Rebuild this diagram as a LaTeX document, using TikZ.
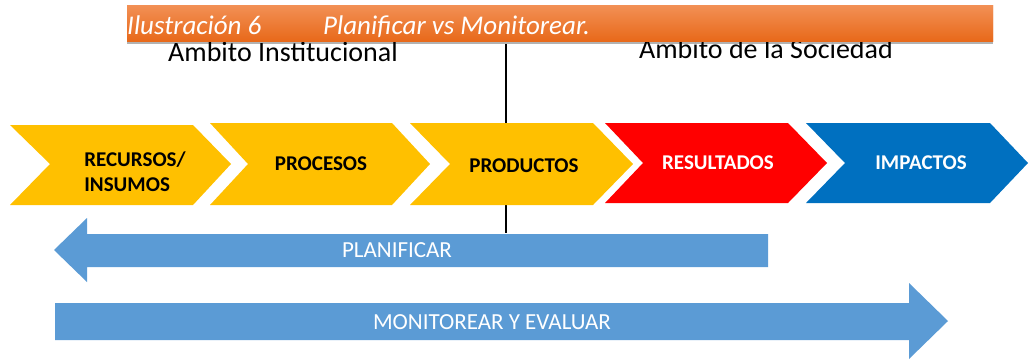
\documentclass[tikz,border=0pt]{standalone}
\usepackage{fontspec}
\setmainfont{Carlito}
\definecolor{cyellow}{HTML}{FFC000}
\definecolor{cred}{HTML}{FF0000}
\definecolor{cblue}{HTML}{0070C0}
\definecolor{abar}{HTML}{5B9BD5}
\definecolor{otop}{HTML}{F29055}
\definecolor{obot}{HTML}{E8691A}
\begin{document}
\begin{tikzpicture}[x=1pt,y=-1pt,
  clabel/.style={font=\bfseries\fontsize{21}{25}\selectfont, align=center, inner sep=0pt},
  alabel/.style={font=\fontsize{23}{25}\selectfont, text=white, inner sep=0pt},
  ambito/.style={font=\fontsize{28}{30}\selectfont, inner sep=0pt},
  ttl/.style={font=\itshape\fontsize{27}{29}\selectfont, text=white, anchor=base west, inner sep=0pt},
  blk/.style={line width=2.5pt, black}]
\useasboundingbox (0,0) rectangle (1031,360);
% vertical divider (behind chevrons)
\coordinate (vtop) at (506,42);
\coordinate (vbot) at (506,233);
\draw[blk] (vtop) -- (vbot);
% title bar
\fill[gray!60] (127,40) rectangle (993,44);
\shade[top color=otop, bottom color=obot] (127,5) rectangle (993,41);
\node[ambito] (ai) at (283,52) {Ambito Institucional};
\node[ambito] (as) at (766,49) {Ambito de la Sociedad};
\shade[top color=otop, bottom color=obot] (127,5) rectangle (993,41);
\node[ttl] (t1) at (127,34) {Ilustración 6};
\node[ttl] (t2) at (323,34) {Planificar vs Monitorear.};
% chevrons
\fill[cyellow] (10,125) -- (193,125) -- (231,164) -- (193,205) -- (10,205) -- (50,164) -- cycle;
\fill[cyellow] (210,123) -- (392,123) -- (430,164) -- (392,205) -- (210,205) -- (248,164) -- cycle;
\fill[cyellow] (410,123) -- (593,123) -- (633,164) -- (593,205) -- (410,205) -- (450,164) -- cycle;
\fill[cred] (605,123) -- (788,123) -- (827,163) -- (788,203) -- (605,203) -- (643,163) -- cycle;
\fill[cblue] (806,123) -- (990,123) -- (1028,163) -- (990,203) -- (806,203) -- (845,163) -- cycle;
\node[clabel, align=left] (c1) at (135,172) {RECURSOS/\\INSUMOS};
\node[clabel] (c2) at (321,164) {PROCESOS};
\node[clabel] (c3) at (524,166) {PRODUCTOS};
\node[clabel, text=white] (c4) at (718,163) {RESULTADOS};
\node[clabel, text=white] (c5) at (921,163) {IMPACTOS};
% PLANIFICAR arrow
\fill[abar] (768,234) -- (87,234) -- (87,218) -- (54,250) -- (87,282) -- (87,267) -- (768,267) -- cycle;
\node[alabel] (pl) at (397,250) {PLANIFICAR};
% MONITOREAR arrow
\fill[abar] (55,303) -- (909,303) -- (909,283) -- (948,321) -- (909,359) -- (909,340) -- (55,340) -- cycle;
\node[alabel] (mo) at (492,322) {MONITOREAR Y EVALUAR};
\end{tikzpicture}
\end{document}
